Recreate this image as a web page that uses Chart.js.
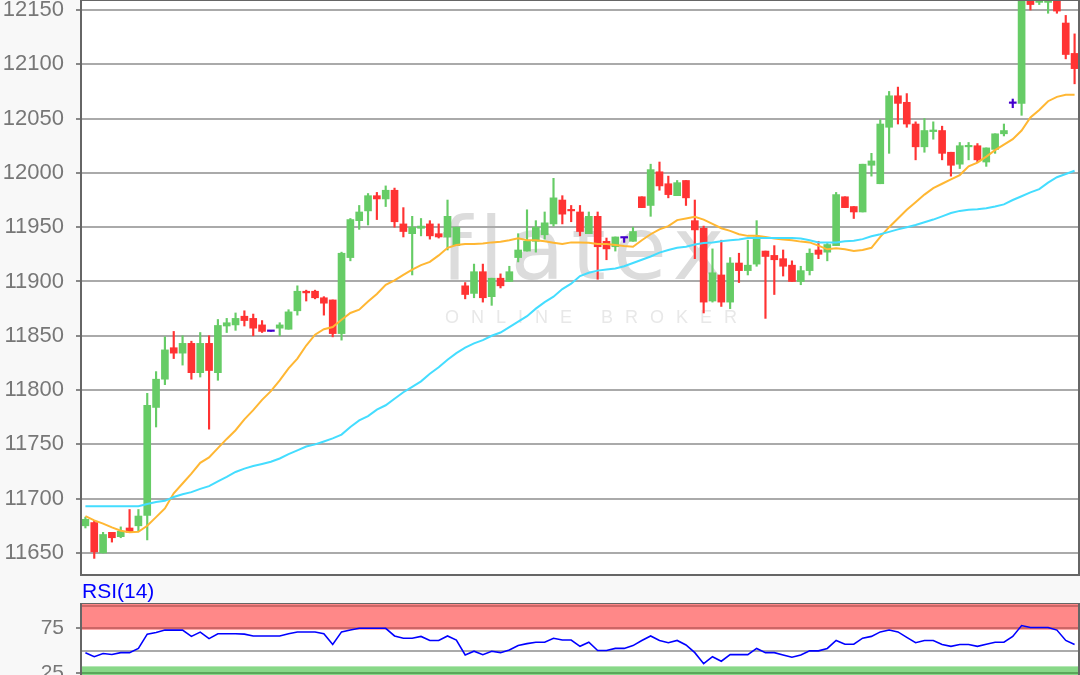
<!DOCTYPE html>
<html>
<head>
<meta charset="utf-8">
<title>RSI chart</title>
<script src="https://cdn.jsdelivr.net/npm/chart.js@4"></script>
<style>
  html, body { margin: 0; width: 1080px; height: 675px; overflow: hidden; background: #f8f8f8; }
  canvas { position: absolute; left: 0; filter: blur(0.4px); }
  #price-canvas { top: 0; }
  #rsi-canvas { top: 603px; }
  #rsi-title { position: absolute; left: 82px; top: 579px; font: 21px "Liberation Sans", sans-serif; color: #0000ff; line-height: 24px; filter: blur(0.4px); }
</style>
</head>
<body>
<canvas id="price-canvas" width="1080" height="576"></canvas>
<div id="rsi-title">RSI(14)</div>
<canvas id="rsi-canvas" width="1080" height="94"></canvas>
<script>
const opens = [11675,11678,11650,11669,11665,11673,11675,11684.5,11784,11810,11839,11834,11843,11816,11843,11816,11859,11860,11868,11866,11860,11854,11857,11856,11873,11891,11891,11885,11883,11852,11922,11956,11965,11979,11976,11984,11953,11944,11949,11953,11944,11941,11933,11896,11889,11909,11886,11903,11900,11922,11928,11937,11943,11953,11975,11966,11964,11944,11960,11937,11932,11940,11937,11978,11970,12001,11990,11979,11993,11956,11949,11882,11906,11881,11917,11910,11916,11928,11924,11921,11915,11900,11910,11929,11927,11933,11978,11969,11964,12007,11990,12042,12071,12065,12045,12024,12038,12039,12019,12008,12024,12025,12010,12021.6,12036,12064,12064,12162,12157,12157,12162,12138,12110];
const highs = [11683,11680,11669,11669,11674,11690,11690,11797,11817,11849,11854,11850,11845,11853,11850,11865,11866,11871,11873,11870,11864,11854,11862,11874,11896,11892,11892,11886,11883,11927,11958,11970,11981,11982,11988,11986,11968,11960,11958,11956,11953,11975,11950,11899,11916,11916,11903,11907,11914,11944,11966,11956,11964,11995,11979,11970,11970,11964,11964,11940,11941,11940,11950,11978,12008,12010,11997,11993,11993,11975,11951,11930,11938,11922,11926,11938,11956,11928,11933,11929,11919,11914,11930,11937,11935,11982,11978,11969,12008,12018,12049,12075,12079,12073,12047,12050,12047,12043,12019,12028,12028,12027,12023,12036,12045,12068,12172,12164,12162,12162,12164,12145,12128];
const lows = [11673,11645,11650,11660,11664,11669,11670,11662,11766,11805,11829,11823,11810,11812,11764,11809,11853,11855,11859,11850,11853,11854,11850,11856,11869,11882,11884,11869,11849,11846,11919,11948,11952,11957,11969,11950,11941,11906,11942,11939,11940,11929,11933,11884,11885,11881,11878,11894,11900,11918,11928,11927,11939,11951,11953,11955,11942,11944,11902,11920,11928,11936,11937,11968,11960,11984,11977,11979,11970,11921,11871,11881,11877,11875,11899,11906,11914,11866,11888,11905,11900,11897,11906,11921,11919,11933,11968,11958,11964,11997,11990,12018,12045,12042,12012,12019,12031,12012,11997,12004,12012,12010,12006,12018,12034,12060,12053,12150,12155,12147,12147,12105,12082];
const closes = [11681,11651,11667,11664,11670,11669,11684,11786,11810,11837,11834,11843,11816,11843,11818,11859.5,11862,11866,11864,11857,11854,11854,11860,11872,11891,11889.5,11885,11880,11852,11926,11957,11964,11979,11976,11984,11955,11946,11950,11951,11942,11941,11960,11950,11888,11909,11885,11903,11896,11909,11929,11937,11950,11954,11977,11962,11965,11946,11960,11932,11930,11941,11940,11946,11968,12003,11988,11980,11991,11977,11947.5,11881,11908,11881,11917,11910,11915,11941,11923,11920,11914,11900,11910,11926,11925,11934,11980,11968,11964,12008,12011,12045,12071,12064,12045,12024,12039,12039.5,12018,12007,12025,12025,12012,12023,12036,12039,12064,12165,12155,12160,12160,12149,12109,12096];
const maFast = [11684,11680,11677,11673.5,11670.5,11669,11669.5,11675,11683,11691,11705,11714,11723,11733,11738,11746.5,11755,11763,11773,11781.5,11791,11799,11809,11820,11829,11841,11851,11856,11858,11864.7,11871,11874,11881.5,11888.5,11897,11901,11906,11911,11915,11918,11924,11931,11933.5,11934.5,11934.5,11935,11936,11936.6,11938,11939.7,11938,11938,11937,11935.7,11934.5,11936,11936,11935.7,11934.5,11934.5,11933.5,11932.6,11932,11938,11943.5,11948,11951,11956.5,11958,11959.6,11957,11953,11949,11946.6,11943.5,11942,11942,11941,11939.5,11938.6,11938,11936.7,11936,11933,11929.6,11930.5,11929.6,11928,11929,11931,11941,11950,11958,11966,11973,11980,11986,11990,11994,11998,12006,12009.5,12015,12021,12026,12031,12039,12051,12058,12066,12070,12072,12072];
const maSlow = [11693,11693,11693,11693,11693,11693,11693,11695,11697,11698,11701.5,11704,11706,11709,11711.5,11716,11720,11724.6,11727.7,11730,11732,11734,11737,11741,11744.4,11748,11750,11752.7,11755.5,11759,11766,11772,11776,11782,11786,11792,11798,11803,11808,11815,11821,11828,11834,11839,11843,11846,11850,11853,11858,11863,11868,11875,11881,11886,11893,11898,11905,11908,11910,11911,11912,11914,11917,11920,11923,11926.6,11929,11931,11932,11934,11935.5,11936,11937,11938,11938.6,11940,11940,11940,11940,11940,11940,11939.5,11938,11936,11936,11936,11937,11937.5,11939,11941.7,11943.5,11945.7,11948,11950,11952,11954.5,11957,11960,11963,11965,11966,11966.5,11967.5,11969,11971,11975,11978.5,11982,11985,11991,11996,11999,12002];
const rsiValues = [48,43.5,47,46,48,48,52.7,68.5,70.4,73,73,73,66,70.8,63.5,69,69,69,68.5,66.5,66.5,66.5,66.5,69,70.8,70.8,70.8,69,57,71,73,75,75,75,75,66.5,64,64,66,61.5,61.5,66.5,62,45.4,49.6,45.8,49.6,48,51,56,58,59.6,59.6,64,62,62,55,59.6,50.4,50.4,52.7,52.7,55.8,61.5,66.5,61.5,59,61.5,56.5,48,35.8,43.5,38.5,45.8,45.8,45.8,52.7,48,48,45.4,43,45.4,50,50,52.7,61.5,57.3,57.3,64,66,71,73,71,65,59,61.5,61.5,57,55,57,57,55,57.3,59.6,59.6,66,78,75.8,75.8,75.8,73,61.5,57];
const priceTicks = [12150,12100,12050,12000,11950,11900,11850,11800,11750,11700,11650];
const rsiTicks = [100,75,50,25];
const rsiLabels = [75,25];
const labels = opens.map(function (_, i) { return i; });

const GREEN = "#66cc66";
const RED = "#ff3333";
const PURPLE = "#4400cc";
const FONT = '"Liberation Sans", sans-serif';

function candleColor(i) {
  if (opens[i] === closes[i]) return PURPLE;
  return closes[i] > opens[i] ? GREEN : RED;
}
const candleColors = labels.map(candleColor);

// fixed gutter for the labels, and no room reserved above or below the plot
function fixAxis(axis) {
  axis.width = 81;
  axis.paddingTop = 0;
  axis.paddingBottom = 0;
}

const framePlugin = {
  id: "frame",
  afterDraw: function (chart) {
    const a = chart.chartArea, ctx = chart.ctx;
    ctx.save();
    ctx.strokeStyle = "#666666";
    ctx.lineWidth = 2;
    ctx.strokeRect(a.left, a.top, a.right - a.left, a.bottom - a.top);
    ctx.restore();
  },
};

// white plot background and the broker watermark, both under the grid
const pricePaper = {
  id: "pricePaper",
  beforeDraw: function (chart) {
    const a = chart.chartArea, ctx = chart.ctx;
    ctx.save();
    ctx.fillStyle = "#ffffff";
    ctx.fillRect(a.left, a.top, a.right - a.left, a.bottom - a.top);
    ctx.fillStyle = "#dcdcdc";
    ctx.font = '88px "DejaVu Sans", sans-serif';
    ctx.letterSpacing = "7px";
    ctx.textBaseline = "alphabetic";
    ctx.fillText("flatex", 441, 279);
    ctx.fillStyle = "#e8e8e8";
    ctx.font = "18px " + FONT;
    ctx.letterSpacing = "12px";
    ctx.fillText("ONLINE BROKER", 445, 323);
    ctx.restore();
  },
};

new Chart(document.getElementById("price-canvas"), {
  type: "bar",
  data: {
    labels: labels,
    datasets: [
      { type: "line", data: maSlow, borderColor: "#44ddff", borderWidth: 2, pointRadius: 0, order: 0 },
      { type: "line", data: maFast, borderColor: "#ffb733", borderWidth: 2, pointRadius: 0, order: 0 },
      {
        data: labels.map(function (i) { return [opens[i], closes[i]]; }),
        backgroundColor: candleColors,
        barThickness: 7,
        minBarLength: 1.5,
        grouped: false,
        order: 1,
      },
      {
        data: labels.map(function (i) { return [lows[i], highs[i]]; }),
        backgroundColor: candleColors,
        barThickness: 1.5,
        grouped: false,
        order: 2,
      },
    ],
  },
  options: {
    responsive: false,
    animation: false,
    layout: { padding: { right: 1, bottom: 1 } },
    plugins: { legend: { display: false }, tooltip: { enabled: false } },
    scales: {
      x: { display: false },
      y: {
        min: 11629.7,
        max: 12159.2,
        afterBuildTicks: function (axis) {
          axis.ticks = priceTicks.map(function (v) { return { value: v }; });
        },
        afterFit: fixAxis,
        border: { display: false },
        grid: { color: "#aaaaaa", lineWidth: 2, tickColor: "#888888", tickLength: 5 },
        ticks: {
          color: "#777777",
          padding: 12,
          font: { size: 22, family: FONT },
          callback: function (v) { return String(v); },
        },
      },
    },
  },
  plugins: [pricePaper, framePlugin],
});

// overbought and oversold zones of the RSI panel
const rsiPaper = {
  id: "rsiPaper",
  beforeDraw: function (chart) {
    const a = chart.chartArea, ctx = chart.ctx, y = chart.scales.y;
    const w = a.right - a.left;
    ctx.save();
    ctx.fillStyle = "#ffffff";
    ctx.fillRect(a.left, a.top, w, a.bottom - a.top);
    ctx.fillStyle = "#ff8888";
    ctx.fillRect(a.left, a.top, w, y.getPixelForValue(73.4) - a.top);
    ctx.fillStyle = "#88d888";
    ctx.fillRect(a.left, y.getPixelForValue(32.8), w, a.bottom - y.getPixelForValue(32.8));
    ctx.restore();
  },
};

function rsiGridColor(ctx) {
  const v = ctx.tick && ctx.tick.value;
  if (v === 50) return "#aaaaaa";
  return v === 25 ? "#5aa75a" : "#cc6666";
}

new Chart(document.getElementById("rsi-canvas"), {
  type: "line",
  data: {
    labels: labels,
    datasets: [{ data: rsiValues, borderColor: "#0000ff", borderWidth: 1.6, pointRadius: 0 }],
  },
  options: {
    responsive: false,
    animation: false,
    layout: { padding: { top: 0, right: 1, bottom: 1 } },
    plugins: { legend: { display: false }, tooltip: { enabled: false } },
    scales: {
      x: { display: false, offset: true },
      y: {
        min: 0,
        max: 103,
        afterBuildTicks: function (axis) {
          axis.ticks = rsiTicks.map(function (v) { return { value: v }; });
        },
        afterFit: fixAxis,
        border: { display: false },
        grid: {
          color: rsiGridColor,
          lineWidth: 2,
          tickLength: 5,
          tickColor: function (ctx) {
            return rsiLabels.includes(ctx.tick && ctx.tick.value) ? "#888888" : "rgba(0,0,0,0)";
          },
        },
        ticks: {
          color: "#777777",
          padding: 12,
          autoSkip: false,
          font: { size: 21, family: FONT },
          callback: function (v) { return rsiLabels.includes(v) ? String(v) : ""; },
        },
      },
    },
  },
  plugins: [rsiPaper, framePlugin],
});
</script>
</body>
</html>
